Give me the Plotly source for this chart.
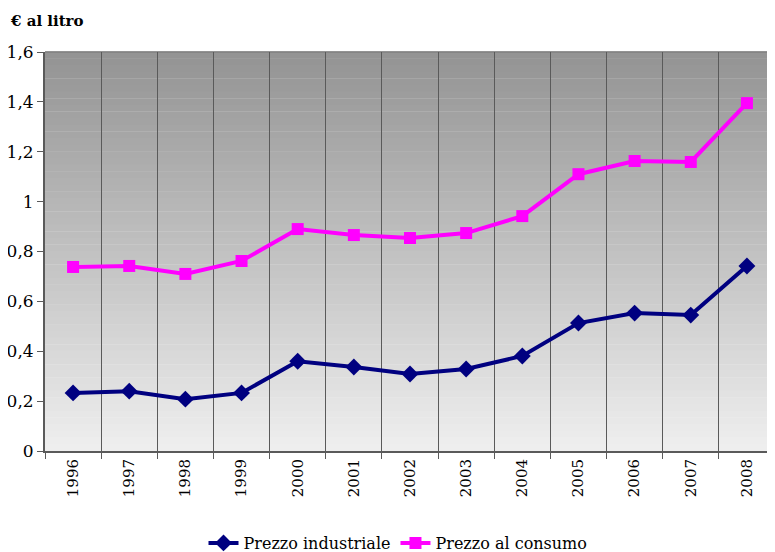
import plotly.graph_objects as go

years = ["1996", "1997", "1998", "1999", "2000", "2001", "2002", "2003", "2004", "2005", "2006", "2007", "2008"]
prezzo_industriale = [0.233, 0.240, 0.208, 0.233, 0.360, 0.337, 0.309, 0.329, 0.381, 0.513, 0.553, 0.545, 0.742]
prezzo_consumo = [0.738, 0.742, 0.710, 0.762, 0.890, 0.866, 0.854, 0.874, 0.942, 1.110, 1.163, 1.159, 1.395]
y_ticks = [0, 0.2, 0.4, 0.6, 0.8, 1.0, 1.2, 1.4, 1.6]

FONT = "DejaVu Serif"

fig = go.Figure()
fig.add_trace(go.Scatter(
    x=years, y=prezzo_industriale, name="Prezzo industriale",
    mode="lines+markers",
    line=dict(color="#000080", width=4),
    marker=dict(symbol="diamond", size=13, color="#000080"),
))
fig.add_trace(go.Scatter(
    x=years, y=prezzo_consumo, name="Prezzo al consumo",
    mode="lines+markers",
    line=dict(color="#ff00ff", width=4),
    marker=dict(symbol="square", size=12, color="#ff00ff"),
))

# vertical gradient background (dark grey at top to light grey at bottom)
n = 60
top = (0x93, 0x93, 0x93)
bot = (0xef, 0xef, 0xef)
shapes = []
for i in range(n):
    t = (i + 0.5) / n
    c = tuple(int(round(top[k] + (bot[k] - top[k]) * t)) for k in range(3))
    shapes.append(dict(
        type="rect", xref="x domain", yref="y domain",
        x0=0, x1=1, y0=1 - (i + 1) / n, y1=1 - i / n + 0.001,
        fillcolor="rgb(%d,%d,%d)" % c, line=dict(width=0), layer="below",
    ))
shapes.append(dict(type="line", xref="x domain", yref="y domain", x0=0, x1=1, y0=1, y1=1,
                   line=dict(color="#808080", width=1.5), layer="below"))

# page has an 8px body margin, so figure coords = page coords - 8
W, H = 767, 544
fig.update_layout(
    width=W, height=H,
    margin=dict(l=37, r=0, t=44, b=101, autoexpand=False),
    paper_bgcolor="white",
    plot_bgcolor="rgba(0,0,0,0)",
    separators=", ",
    font=dict(family=FONT, size=15, color="#000000"),
    shapes=shapes,
    showlegend=True,
    legend=dict(orientation="h", xref="container", yref="container",
                x=(398 - 8) / W, xanchor="center", y=(H - (543 - 8)) / H, yanchor="middle",
                font=dict(family=FONT, size=16), traceorder="normal"),
    annotations=[dict(text="<b>€ al litro</b>", xref="paper", yref="paper",
                      x=-37 / 730, y=1 + 31 / 399, xanchor="left", yanchor="middle",
                      showarrow=False, font=dict(family=FONT, size=15))],
)
fig.update_xaxes(
    type="category", tickson="boundaries", showgrid=True, gridcolor="#5a5a5a", gridwidth=1,
    ticks="outside", ticklen=6, tickcolor="#5a5a5a",
    showline=True, linecolor="#5a5a5a", linewidth=2,
    tickangle=-90, tickfont=dict(family=FONT, size=15),
    range=[-0.5, 12.5],
)
fig.update_yaxes(
    range=[0, 1.6], tickvals=y_ticks, tickformat="~r",
    showgrid=False, zeroline=False,
    ticks="outside", ticklen=6, tickcolor="#5a5a5a",
    showline=True, linecolor="#5a5a5a", linewidth=2,
    tickfont=dict(family=FONT, size=17),
)

fig.write_html("out.html")
